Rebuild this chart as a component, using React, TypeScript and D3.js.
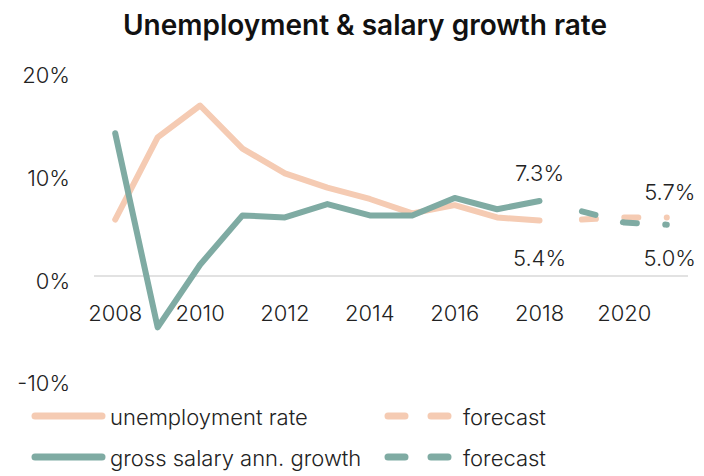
import React, { useEffect, useRef } from "react";
import * as d3 from "d3";

const years = [2008, 2009, 2010, 2011, 2012, 2013, 2014, 2015, 2016, 2017, 2018, 2019, 2020, 2021];
const tickYears = [2008, 2010, 2012, 2014, 2016, 2018, 2020];
const yTicks = [20, 10, 0, -10];

const unempYears = [2008, 2009, 2010, 2011, 2012, 2013, 2014, 2015, 2016, 2017, 2018];
const unempValues = [5.5, 13.5, 16.6, 12.4, 10.0, 8.6, 7.5, 6.1, 6.9, 5.7, 5.4];
const unempForecastYears = [2019, 2020, 2021];
const unempForecastValues = [5.5, 5.7, 5.7];

const salaryYears = [2008, 2009, 2010, 2011, 2012, 2013, 2014, 2015, 2016, 2017, 2018];
const salaryValues = [13.9, -5.0, 1.1, 5.9, 5.7, 7.0, 5.9, 5.9, 7.6, 6.5, 7.3];
const salaryForecastYears = [2019, 2020, 2021];
const salaryForecastValues = [6.3, 5.2, 5.0];

const legendLabels = ["unemployment rate", "gross salary ann. growth", "forecast", "forecast"];

const PEACH = "#F5CBB3";
const TEAL = "#7FABA3";
const FONT = "Inter, Roboto, 'Liberation Sans', sans-serif";
const FS = 22;

export default function App() {
  const ref = useRef<SVGSVGElement>(null);

  useEffect(() => {
    const svg = d3.select(ref.current);
    svg.selectAll("*").remove();

    const x = d3.scalePoint<number>().domain(years).range([94, 688]).padding(0.5);
    const y = d3.scaleLinear().domain([-10, 20]).range([378.7, 70.6]);
    const step = x.step();

    // title
    svg.append("text")
      .attr("x", 365).attr("y", 35)
      .attr("text-anchor", "middle")
      .attr("font-family", FONT)
      .attr("font-weight", 600)
      .attr("font-size", 28)
      .attr("fill", "#111")
      .text("Unemployment & salary growth rate");

    // zero gridline
    svg.append("line")
      .attr("x1", 94).attr("x2", 688)
      .attr("y1", y(0)).attr("y2", y(0))
      .attr("stroke", "#d9d9d9").attr("stroke-width", 1.5);

    // y ticks
    svg.selectAll(".yt").data(yTicks).enter().append("text")
      .attr("x", 70).attr("y", (d) => y(d) + 12.5)
      .attr("text-anchor", "end")
      .attr("font-family", FONT).attr("font-weight", 300).attr("font-size", FS)
      .attr("fill", "#222")
      .text((d) => `${d}%`);

    // x ticks
    svg.selectAll(".xt").data(tickYears).enter().append("text")
      .attr("x", (d) => x(d)!).attr("y", 321)
      .attr("text-anchor", "middle")
      .attr("font-family", FONT).attr("font-weight", 300).attr("font-size", FS)
      .attr("fill", "#222")
      .text((d) => `${d}`);

    const line = d3.line<[number, number]>().x((d) => x(d[0])!).y((d) => y(d[1]));

    const drawLine = (ys: number[], vs: number[], color: string, dashed: boolean) => {
      const p = svg.append("path")
        .attr("d", line(ys.map((yr, i) => [yr, vs[i]] as [number, number])))
        .attr("fill", "none")
        .attr("stroke", color)
        .attr("stroke-width", 6)
        .attr("stroke-linejoin", "round")
        .attr("stroke-linecap", "round");
      if (dashed) p.attr("stroke-dasharray", `14 ${step - 14}`);
    };

    drawLine(unempYears, unempValues, PEACH, false);
    drawLine(salaryYears, salaryValues, TEAL, false);
    drawLine(unempForecastYears, unempForecastValues, PEACH, true);
    drawLine(salaryForecastYears, salaryForecastValues, TEAL, true);

    // data labels
    const lab = (xx: number, yy: number, t: string) =>
      svg.append("text").attr("x", xx).attr("y", yy)
        .attr("text-anchor", "middle")
        .attr("font-family", FONT).attr("font-weight", 300).attr("font-size", FS)
        .attr("fill", "#222").text(t);

    const sLast = salaryValues[salaryValues.length - 1];
    const uLast = unempValues[unempValues.length - 1];
    const sfLast = salaryForecastValues[salaryForecastValues.length - 1];
    const ufLast = unempForecastValues[unempForecastValues.length - 1];
    lab(x(2018)!, y(sLast) - 20, `${sLast.toFixed(1)}%`);
    lab(x(2018)!, y(uLast) + 45, `${uLast.toFixed(1)}%`);
    lab(x(2021)! + 3, y(ufLast) - 17, `${ufLast.toFixed(1)}%`);
    lab(x(2021)! + 3, y(sfLast) + 41, `${sfLast.toFixed(1)}%`);

    // legend
    const rows = [416, 457];
    const colors = [PEACH, TEAL];
    rows.forEach((ry, i) => {
      svg.append("line").attr("x1", 35).attr("x2", 102).attr("y1", ry).attr("y2", ry)
        .attr("stroke", colors[i]).attr("stroke-width", 7).attr("stroke-linecap", "round");
      svg.append("text").attr("x", 110).attr("y", ry + 8.5)
        .attr("font-family", FONT).attr("font-weight", 300).attr("font-size", FS)
        .attr("fill", "#222").text(legendLabels[i]);
      svg.append("line").attr("x1", 388).attr("x2", 448).attr("y1", ry).attr("y2", ry)
        .attr("stroke", colors[i]).attr("stroke-width", 7).attr("stroke-linecap", "round")
        .attr("stroke-dasharray", "17 26");
      svg.append("text").attr("x", 463).attr("y", ry + 8.5)
        .attr("font-family", FONT).attr("font-weight", 300).attr("font-size", FS)
        .attr("fill", "#222").text(legendLabels[2 + i]);
    });
  }, []);

  return (
    <svg
      ref={ref}
      width={704}
      height={476}
      style={{ position: "absolute", left: 0, top: 0, background: "#fff" }}
    />
  );
}
